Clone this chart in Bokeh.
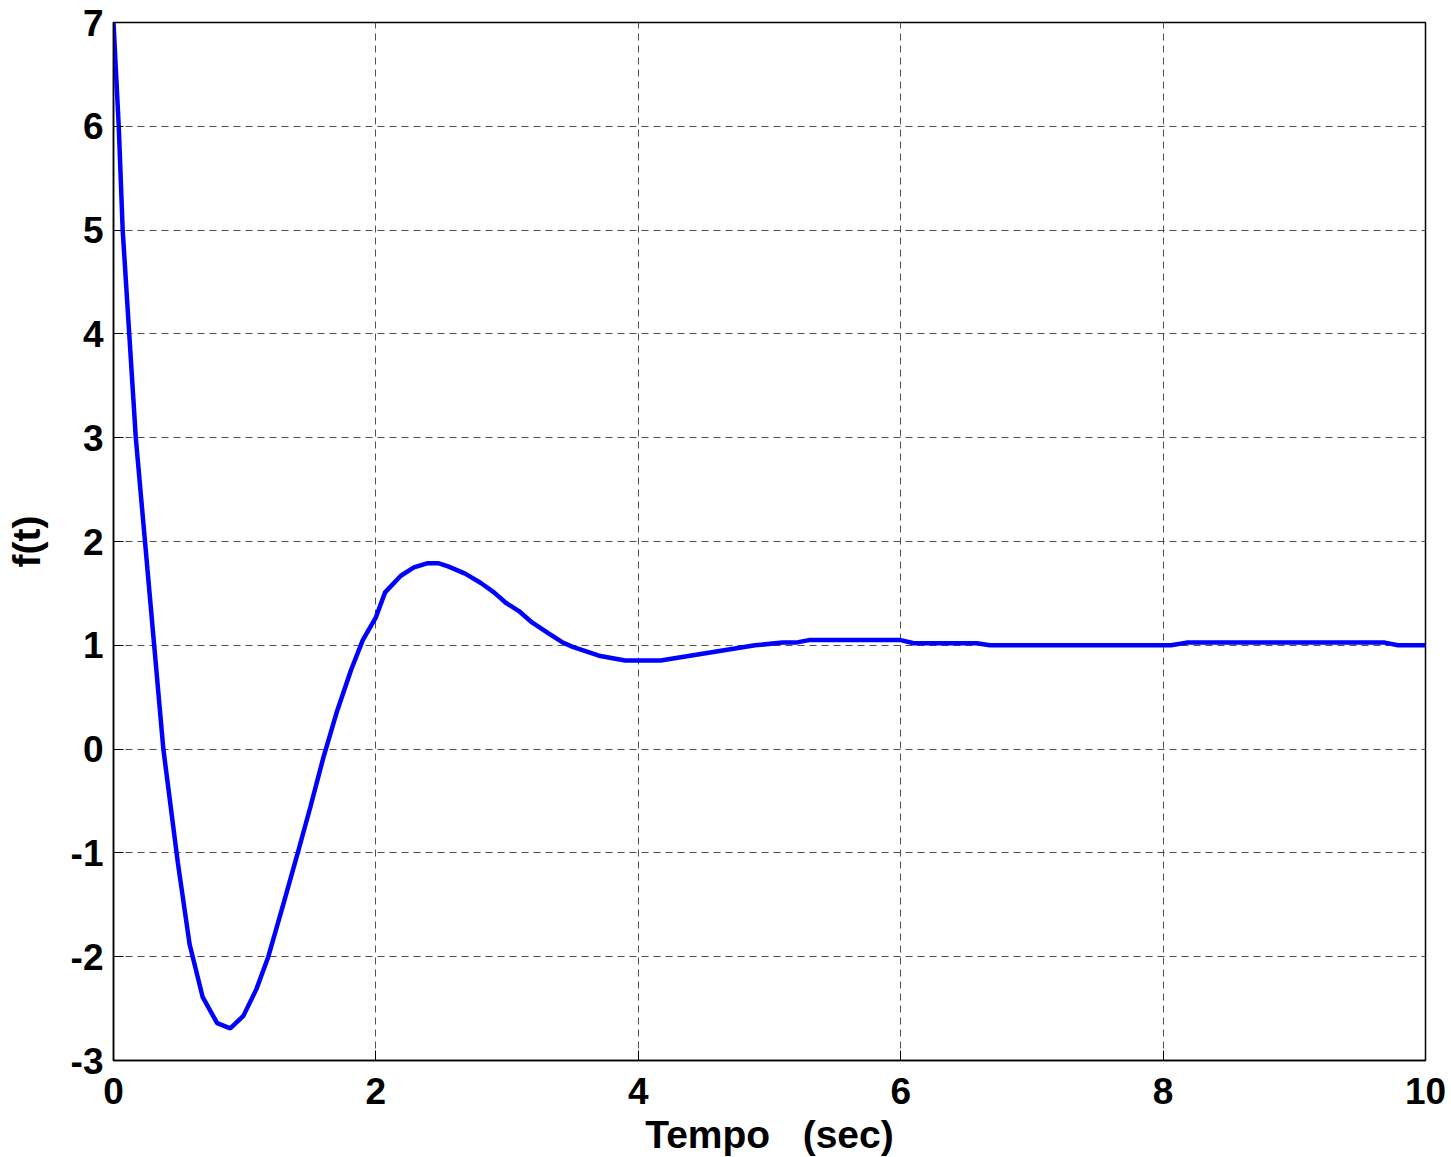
from bokeh.plotting import figure
from bokeh.models import Range1d, FixedTicker, ColumnDataSource
from bokeh.embed import file_html
from bokeh.resources import INLINE

# Data
t_vals = [0.0, 0.04, 0.07, 0.12, 0.17, 0.24, 0.31, 0.38, 0.49, 0.58, 0.68, 0.79,
          0.89, 0.99, 1.09, 1.18, 1.30, 1.40, 1.50, 1.60, 1.70, 1.81, 1.90, 2.00,
          2.07, 2.19, 2.29, 2.39, 2.48, 2.55, 2.68, 2.80, 2.90, 2.99, 3.09, 3.19,
          3.31, 3.42, 3.50, 3.70, 3.90, 4.17, 4.89, 5.10, 5.20, 5.30, 6.00, 6.10,
          6.58, 6.68, 8.06, 8.18, 9.69, 9.79, 10.0]
f_vals = [7.0, 6.0, 5.0, 4.0, 3.0, 2.0, 1.0, 0.0, -1.09, -1.88, -2.39, -2.64,
          -2.69, -2.57, -2.31, -2.0, -1.47, -1.02, -0.56, -0.08, 0.35, 0.76, 1.05, 1.27,
          1.51, 1.67, 1.75, 1.79, 1.79, 1.76, 1.69, 1.60, 1.51, 1.41, 1.33, 1.22,
          1.12, 1.03, 0.985, 0.90, 0.853, 0.853, 1.0, 1.026, 1.026, 1.05, 1.05, 1.02,
          1.02, 1.0, 1.0, 1.026, 1.026, 1.0, 1.0]
x_ticks = [0, 2, 4, 6, 8, 10]
y_ticks = [-3, -2, -1, 0, 1, 2, 3, 4, 5, 6, 7]
x_label = "Tempo\u00a0\u00a0\u00a0(sec)"
y_label = "f(t)"

FONT = "Liberation Sans"

p = figure(frame_width=1312, frame_height=1038, output_backend="svg", toolbar_location=None,
           x_range=Range1d(0, 10), y_range=Range1d(-3, 7))
p.min_border_left = 113
p.min_border_right = 26
p.min_border_top = 22
p.min_border_bottom = 97
p.background_fill_color = "white"
p.border_fill_color = "white"
p.outline_line_color = "black"
p.outline_line_width = 1.5

src = ColumnDataSource(dict(t=t_vals, f=f_vals))
p.line("t", "f", source=src, line_color="#0000FF", line_width=4.5)

p.xaxis.ticker = FixedTicker(ticks=x_ticks)
p.yaxis.ticker = FixedTicker(ticks=y_ticks)
p.xaxis.major_label_overrides = {v: str(v) for v in x_ticks}
p.yaxis.major_label_overrides = {v: str(v) for v in y_ticks}
for ax in (p.xaxis[0], p.yaxis[0]):
    ax.major_label_text_font = FONT
    ax.major_label_text_font_style = "bold"
    ax.major_label_text_font_size = "37px"
    ax.major_label_text_color = "black"
    ax.axis_label_text_font = FONT
    ax.axis_label_text_font_style = "bold"
    ax.axis_label_text_font_size = "39px"
    ax.axis_label_text_color = "black"
    ax.axis_line_color = "black"
    ax.axis_line_width = 1.5
    ax.major_tick_in = 10
    ax.major_tick_out = 0
    ax.major_tick_line_color = "black"
    ax.minor_tick_line_color = None

p.xaxis.axis_label = x_label
p.yaxis.axis_label = y_label
p.xaxis.major_label_standoff = 17
p.xaxis.axis_label_standoff = 6
p.yaxis.major_label_standoff = 10
p.yaxis.axis_label_standoff = 20

for g in (p.xgrid[0], p.ygrid[0]):
    g.grid_line_color = "#333333"
    g.grid_line_dash = "7 5"
    g.grid_line_width = 1
    g.grid_line_alpha = 0.85

open("out.html", "w").write(file_html(p, INLINE))
